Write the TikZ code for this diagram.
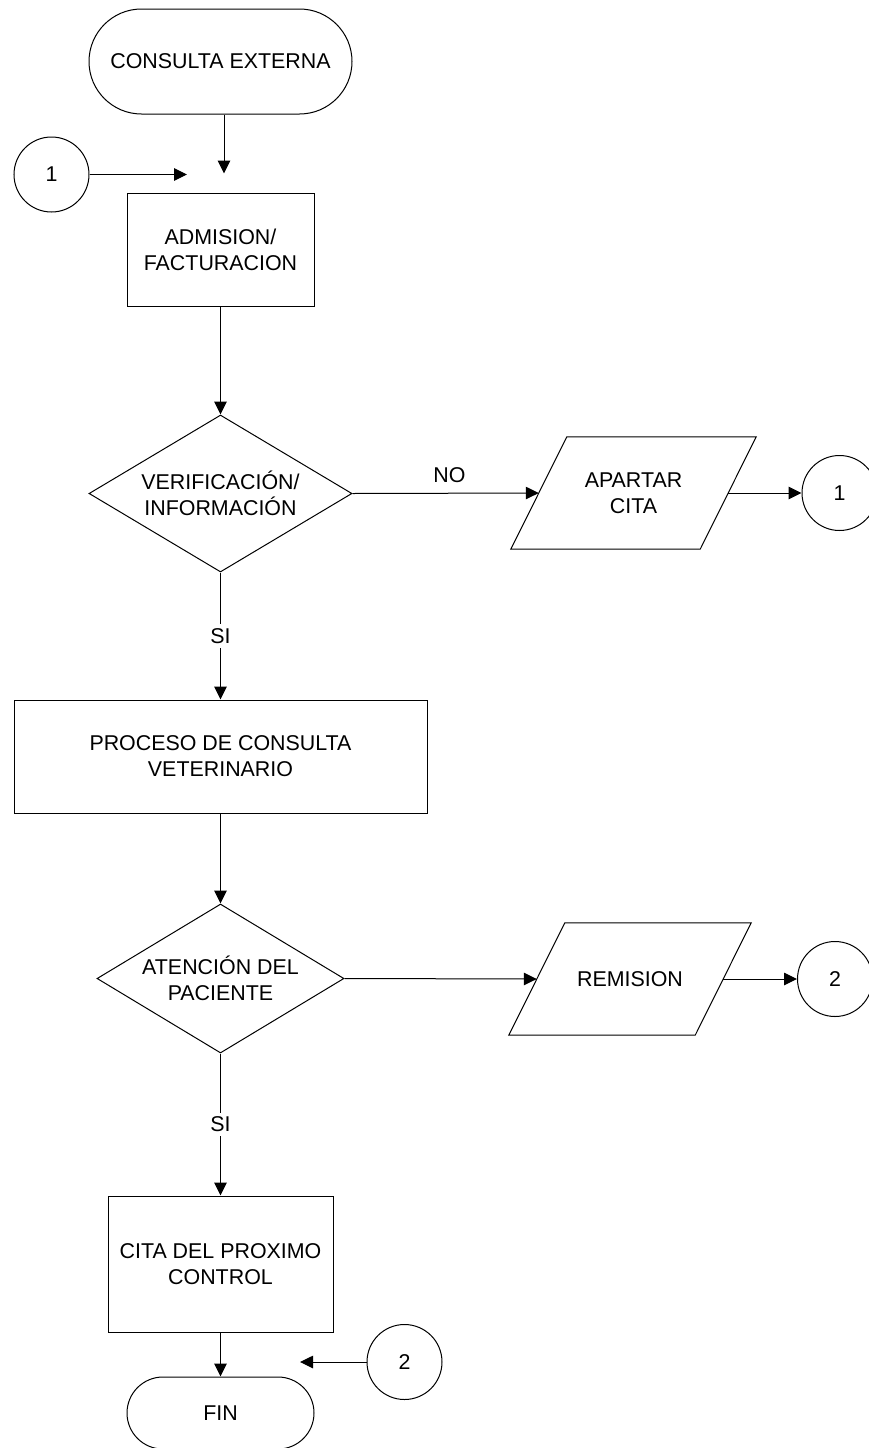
\documentclass[tikz,border=0pt]{standalone}
\usepackage{fontspec}
\setmainfont{Liberation Sans}
\usetikzlibrary{arrows.meta,shapes.geometric}
\begin{document}
\begin{tikzpicture}[x=1pt,y=-1pt,
  every node/.style={font=\fontsize{21.4}{26}\selectfont, align=center, inner sep=0pt},
  line/.style={line width=1pt, draw=black},
  arr/.style={line, -{Triangle[length=13pt,width=12.5pt]}},
  term/.style={line, rectangle, rounded corners=#1},
  procbox/.style={line, rectangle},
  dec/.style={line, diamond},
  iobox/.style={rectangle},
  conn/.style={line, circle, minimum size=75pt},
  lbl/.style={fill=white, inner sep=4pt}
]
\useasboundingbox (0,0) rectangle (868,1448);

% nodes
\node[term=52.5pt, minimum width=263pt, minimum height=105pt] (ce) at (220.5,61.5) {CONSULTA EXTERNA};
\node[conn] (k1a) at (51.5,174.5) {1};
\node[procbox, minimum width=187pt, minimum height=113pt] (adm) at (220.5,249.5) {ADMISION/\\FACTURACION};
\node[dec, shape aspect=1.675, minimum width=263pt, minimum height=157pt] (d1) at (220.5,493.5) {VERIFICACIÓN/\\INFORMACIÓN};
\node[iobox, minimum width=189pt, minimum height=112pt] (p1) at (633.5,493) {APARTAR\\CITA};
\node[conn] (k1b) at (839.5,493) {1};
\node[procbox, minimum width=413pt, minimum height=113pt] (proc) at (220.5,756.5) {PROCESO DE CONSULTA\\VETERINARIO};
\node[dec, shape aspect=1.658, minimum width=247pt, minimum height=149pt] (d2) at (220.5,978.5) {ATENCIÓN DEL\\PACIENTE};
\node[iobox, minimum width=186pt, minimum height=112pt] (p2) at (630,979) {REMISION};
\node[conn] (k2a) at (835,979) {2};
\node[procbox, minimum width=225pt, minimum height=136pt] (cita) at (220.5,1264) {CITA DEL PROXIMO\\CONTROL};
\node[term=36pt, minimum width=187pt, minimum height=72pt] (fin) at (220.5,1413) {FIN};
\node[conn] (k2b) at (404.5,1362) {2};

% parallelogram outlines
\draw[line] ([xshift=28pt]p1.north west) -- ([xshift=28pt]p1.north east) -- ([xshift=-28pt]p1.south east) -- ([xshift=-28pt]p1.south west) -- cycle;
\draw[line] ([xshift=28pt]p2.north west) -- ([xshift=28pt]p2.north east) -- ([xshift=-28pt]p2.south east) -- ([xshift=-28pt]p2.south west) -- cycle;

% free ends
\coordinate (t1) at (224,173.5);
\coordinate (t2) at (187,174.5);
\coordinate (t3) at (300,1362);

% connectors
\draw[arr] ([xshift=3.5pt]ce.south) -- (t1);
\draw[arr] (k1a.east) -- (t2);
\draw[arr] (adm.south) -- (d1.north);
\draw[arr] (d1.east) -- node[pos=0.52, above=10.5pt] {NO} (p1.west);
\draw[arr] (p1.east) -- (k1b.west);
\draw[arr] (d1.south) -- node[lbl, midway] {SI} (proc.north);
\draw[arr] (proc.south) -- (d2.north);
\draw[arr] (d2.east) -- (p2.west);
\draw[arr] (p2.east) -- (k2a.west);
\draw[arr] (d2.south) -- node[lbl, midway] {SI} (cita.north);
\draw[arr] (cita.south) -- (fin.north);
\draw[arr] (k2b.west) -- (t3);
\end{tikzpicture}
\end{document}
